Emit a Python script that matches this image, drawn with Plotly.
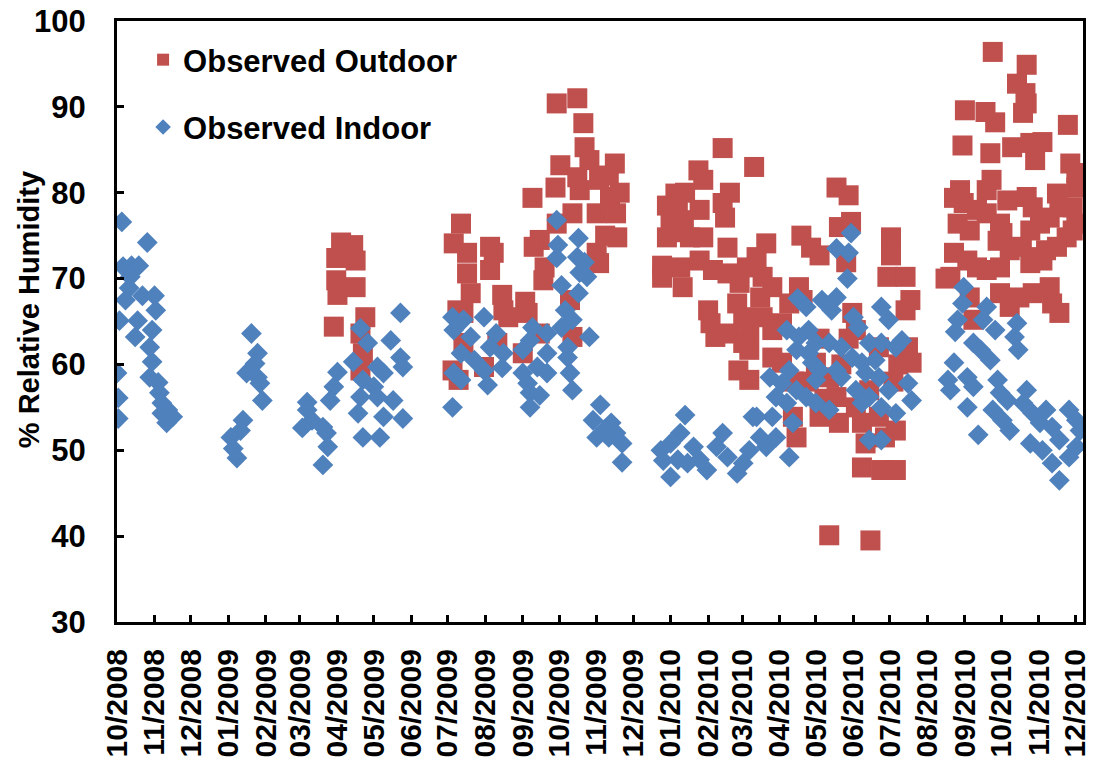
import plotly.graph_objects as go
import pandas as pd

# day numbers counted from 2008-10-01, values in % relative humidity
start_date = "2008-10-01"
end_date = "2010-12-07 12:00"

outdoor_day_2009a = [185, 195, 181, 197, 181, 197, 182, 179, 205, 201, 203, 201]
outdoor_rh_2009a = [74.2, 73.9, 72.4, 72.1, 69.8, 69, 68.1, 64.4, 65.5, 63.6, 61.3, 59.3]

outdoor_day_2009b = [363, 380, 385, 386, 366, 390, 411, 380, 398, 362, 343, 382, 407, 412, 376, 396, 363, 284,
                     413, 278, 349, 344, 396, 398, 289, 308, 311, 289, 308, 353, 352, 292, 318, 337, 374, 339,
                     319, 323, 286, 281, 349, 376, 286, 314, 335, 277, 282, 303, 415, 403, 406]
outdoor_rh_2009b = [90.4, 91, 88.1, 85.3, 83.2, 83.8, 83.4, 81.8, 81.5, 80.6, 79.4, 80.3, 79.5, 77.6, 77.6, 77.6,
                    76.4, 76.4, 74.8, 74.1, 74.5, 73.7, 73, 71.8, 73, 73.7, 73, 70.6, 71, 71.3, 69.8, 68.3, 68.1,
                    67.3, 67.5, 66, 66.3, 65.5, 66, 66.3, 63.6, 63.2, 62.5, 62.5, 61.3, 59.3, 58.2, 59.7, 80, 75, 82]

outdoor_day_2010a = [500, 526, 480, 484, 506, 500, 461, 469, 454, 463, 481, 502, 457, 468, 459, 473, 484, 454,
                     504, 536, 565, 594, 604, 596, 606, 573, 580, 639, 639, 602, 450, 465, 450, 467, 481, 492,
                     528, 520, 504, 514, 533, 541, 531, 563, 566, 636, 651, 655, 651, 488, 490, 494, 512, 517,
                     522, 506, 517, 522, 533, 541, 549, 555, 607, 610, 653, 656, 541, 549, 513, 522, 577, 588,
                     558, 561, 580, 596, 615, 618, 634, 643, 615, 631, 643, 588, 622, 610, 629, 594, 571, 584,
                     598, 621, 629, 641, 645, 604, 580, 559]
outdoor_rh_2010a = [85.2, 83, 82.6, 81.5, 80, 78.8, 79.9, 80, 78.5, 78, 78, 77.1, 76.6, 76.8, 75.4, 74.8, 74.8,
                    74.8, 73.6, 74.1, 75, 80.6, 79.7, 76, 76.6, 73.6, 72.7, 74.8, 72.7, 71.9, 71.5, 71.3, 70.1,
                    69, 72.1, 71, 72.5, 71.3, 70.6, 69.5, 70.2, 69, 67.8, 69, 67.5, 70.2, 70.2, 67.5, 66.3, 66.3,
                    64.8, 63.2, 67.1, 65.5, 64, 63.6, 62.5, 61.7, 65.5, 64, 64.8, 67.1, 66, 64, 62, 60.2, 60.8,
                    60.2, 59.3, 58.2, 60.2, 58.5, 53.9, 51.5, 53.9, 53.2, 53.2, 50.8, 51.5, 52.3, 48, 47.7, 47.7,
                    40.1, 39.5, 55, 53.9, 56.2, 58, 56, 60, 57, 62, 58, 60, 63, 63, 58]

outdoor_day_2010b = [723, 751, 743, 750, 751, 748, 700, 717, 725, 785, 698, 721, 739, 754, 764, 758, 787, 792,
                     792, 722, 718, 696, 691, 699, 735, 751, 756, 776, 778, 789, 792, 710, 718, 729, 694, 704,
                     754, 762, 770, 784, 789, 727, 737, 731, 691, 702, 710, 747, 756, 767, 776, 688, 718, 729,
                     754, 764, 704, 707, 729, 737, 745, 756, 770, 772, 778, 684]
outdoor_rh_2010b = [96.4, 94.9, 92.7, 91.6, 90.4, 89.3, 89.6, 89.4, 88.2, 87.9, 85.5, 84.6, 85.3, 85.8, 85.9,
                    83.8, 83.4, 82.3, 80.6, 81.5, 80.3, 80.3, 79.4, 78.8, 79.1, 79.5, 78.3, 79.9, 78.3, 78.3,
                    76.4, 78, 77.6, 76.4, 76.4, 75.6, 75.6, 76.4, 77.1, 74.8, 75.6, 74.4, 73.3, 75.3, 73, 72.1,
                    71.3, 73.7, 72.5, 73.3, 73.7, 70.2, 71, 71.3, 71.8, 72.1, 67.8, 65.2, 68.3, 66.7, 67.8, 68.3,
                    69, 67.1, 66, 70]

indoor_day_2008 = [4, 25, 5, 12, 18, 11, 10, 7, 21, 31, 32, 2, 17, 29, 15, 27, 29, 0, 27, 34, 35, 1, 37, 42, 46,
                   37, 41, 1]
indoor_rh_2008 = [76.6, 74.2, 71.4, 71.5, 71.5, 70.2, 68.9, 67.5, 68, 68, 66.3, 65.1, 65.1, 64, 63.2, 62, 60.3,
                  59, 58.5, 57.9, 56.7, 56.1, 55.5, 54.7, 53.9, 54.3, 53.2, 53.7]

indoor_day_2009a = [111, 116, 114, 107, 116, 118, 120, 104, 102, 94, 96, 99,
                    157, 157, 161, 170, 153, 173, 174, 170,
                    182, 179, 176, 195, 201, 207, 234, 226, 234, 236, 215, 220, 203, 212, 201, 215, 228, 199,
                    220, 236, 203, 217]
indoor_rh_2009a = [63.6, 61.3, 60.1, 59, 58.5, 57.8, 55.8, 53.5, 52.3, 51.5, 50.2, 49.1,
                   55.6, 54.7, 53.5, 52.7, 52.6, 52, 50.4, 48.3,
                   59.1, 57.4, 55.8, 60.3, 64.2, 62.5, 66, 62.8, 60.8, 59.7, 59.7, 59, 58.2, 57.4, 56.2, 56.2,
                   55.8, 54.3, 53.9, 53.7, 51.5, 51.5]

indoor_day_2009b = [363, 381, 364, 363, 380, 386, 382, 388, 367, 381, 370, 376, 367, 390, 372, 372, 374, 376,
                    343, 355, 341, 335, 355, 347, 355, 335, 339, 341, 349, 341,
                    277, 286, 278, 292, 303, 313, 284, 295, 308, 319, 278, 284, 303, 318, 306, 277,
                    399, 408, 393, 396, 412, 417, 417, 403, 406]
indoor_rh_2009b = [76.8, 74.7, 73.9, 72.4, 72.5, 71.9, 70.7, 70.2, 69.2, 68.3, 66.3, 65.2, 64.3, 63.2, 62, 60.8,
                   59, 57,
                   64.3, 63.6, 62.8, 61.7, 61.3, 59.7, 59, 59, 57.8, 56.7, 56.4, 55,
                   65.5, 65.2, 64, 63.2, 65.5, 63.6, 61.3, 60.5, 62, 61.3, 59, 58.2, 59.3, 59.6, 57.6, 55,
                   55.3, 53.2, 53.5, 51.5, 52, 50.8, 48.6, 52.5, 51.5]

indoor_day_2010a = [469, 465, 457, 449, 451, 457, 476, 481, 487, 495, 504, 500, 512, 517, 522, 531, 536, 544, 525,
                    463, 471,
                    606, 594, 604, 603, 562, 569, 582, 594, 590, 631, 637, 608, 612, 553, 563, 571, 577, 588,
                    598, 621, 631, 648, 643, 561, 571, 607, 615, 626, 574, 580, 594, 598, 618, 629, 539, 555,
                    549, 561, 577, 610, 621, 637, 653, 656, 544, 553, 569, 577, 588, 615, 631, 643, 541, 558,
                    528, 621, 631, 555]
indoor_rh_2010a = [54.1, 52, 50.8, 50, 48.8, 46.9, 50.4, 48.9, 47.7, 50.4, 49.2, 52, 47.3, 48.5, 50, 51.5, 50.4,
                   51.5, 53.9, 48.9, 48.5,
                   75.3, 73.5, 73, 70, 67.7, 66.7, 67.5, 67.8, 66.3, 66.7, 65.2, 65.5, 64.3, 64, 63.2, 64, 62.5,
                   62.5, 62, 62.5, 62.5, 62.8, 62, 61.7, 61.3, 60.8, 60.2, 60.5, 60.2, 59.3, 59.3, 58.5, 59,
                   58.5, 58.5, 59.3, 57.8, 57, 58.2, 57, 56.2, 57, 57.8, 55.8, 56.2, 55.5, 56.2, 55.5, 54.7,
                   55.5, 55, 54.3, 53.9, 53.2, 53.9, 51.2, 51.2, 49.2]

indoor_day_2010b = [699, 698, 694, 692, 718, 715, 725, 743, 741, 744, 707, 713, 721, 691, 686, 688, 702, 707, 702,
                    727, 729, 735, 723, 731, 737, 751, 748, 756, 762, 711, 767, 772, 778, 786, 792, 795, 754,
                    764, 772, 778, 786, 792]
indoor_rh_2010b = [69, 67.1, 65.2, 63.8, 66.7, 65.2, 64, 64.8, 63.2, 61.7, 62.5, 61.7, 60.5, 60.2, 58.2, 57,
                   58.5, 57.4, 55, 58.2, 56.7, 55.8, 54.7, 53.5, 52.3, 57, 55.5, 54.3, 53.2, 51.8, 54.7, 52.7,
                   51.2, 54.7, 53.5, 52.3, 50.8, 50, 48.5, 46.5, 49.2, 50.4]

month_ticks = pd.date_range("2008-10-01", "2010-12-01", freq="MS")


def to_dates(days):
    return pd.Timestamp(start_date) + pd.to_timedelta(days, unit="D")


outdoor_x = to_dates(outdoor_day_2009a + outdoor_day_2009b + outdoor_day_2010a + outdoor_day_2010b)
outdoor_y = outdoor_rh_2009a + outdoor_rh_2009b + outdoor_rh_2010a + outdoor_rh_2010b
indoor_x = to_dates(indoor_day_2008 + indoor_day_2009a + indoor_day_2009b + indoor_day_2010a + indoor_day_2010b)
indoor_y = indoor_rh_2008 + indoor_rh_2009a + indoor_rh_2009b + indoor_rh_2010a + indoor_rh_2010b

font_family = "Liberation Sans, Arial, sans-serif"
title_font = dict(family=font_family, size=29, color="black", weight="bold")
ytick_font = dict(family=font_family, size=31, color="black", weight="bold")
xtick_font = dict(family=font_family, size=30, color="black", weight="bold")
legend_font = dict(family=font_family, size=31, color="black", weight="bold")

fig = go.Figure()

fig.add_trace(go.Scatter(x=outdoor_x, y=outdoor_y, name="Observed Outdoor", mode="markers", legendgroup="out",
                         marker=dict(symbol="square", size=20, color="#C0504D")))
fig.add_trace(go.Scatter(x=indoor_x, y=indoor_y, name="Observed Indoor", mode="markers", legendgroup="in",
                         marker=dict(symbol="diamond", size=16, color="#4F81BD")))

# page body adds an 8px offset, so the figure is sized to keep the plot box where it belongs
fig.update_layout(width=1086, height=750, margin=dict(l=109, r=11, t=13, b=136),
                  plot_bgcolor="white", paper_bgcolor="white", font=title_font,
                  legend=dict(x=0.027, y=0.98, xanchor="left", yanchor="top", bgcolor="rgba(0,0,0,0)",
                              font=legend_font, tracegroupgap=24, itemsizing="constant"))

# y title as a rotated note, it sits a bit above the axis middle in the original
fig.add_annotation(text="% Relative Humidity", xref="paper", yref="paper", x=-0.091, y=0.519,
                   xanchor="center", yanchor="middle", textangle=-90, showarrow=False, font=title_font)

fig.update_xaxes(type="date", range=[start_date, end_date], tickmode="array", tickvals=month_ticks,
                 tickformat="%m/%Y", tickangle=-90, ticks="inside", ticklen=7, tickwidth=3, tickcolor="black",
                 showline=True, linewidth=3, linecolor="black", mirror=True, showgrid=False, zeroline=False,
                 tickfont=xtick_font, ticklabelstandoff=12, ticklabeloverflow="allow", automargin=False)
fig.update_yaxes(range=[30, 100], dtick=10, ticks="inside", ticklen=7, tickwidth=3, tickcolor="black",
                 showline=True, linewidth=3, linecolor="black", mirror=True, showgrid=False, zeroline=False,
                 tickfont=ytick_font, ticklabelstandoff=22, ticklabeloverflow="allow", automargin=False)

fig.write_html("out.html")
